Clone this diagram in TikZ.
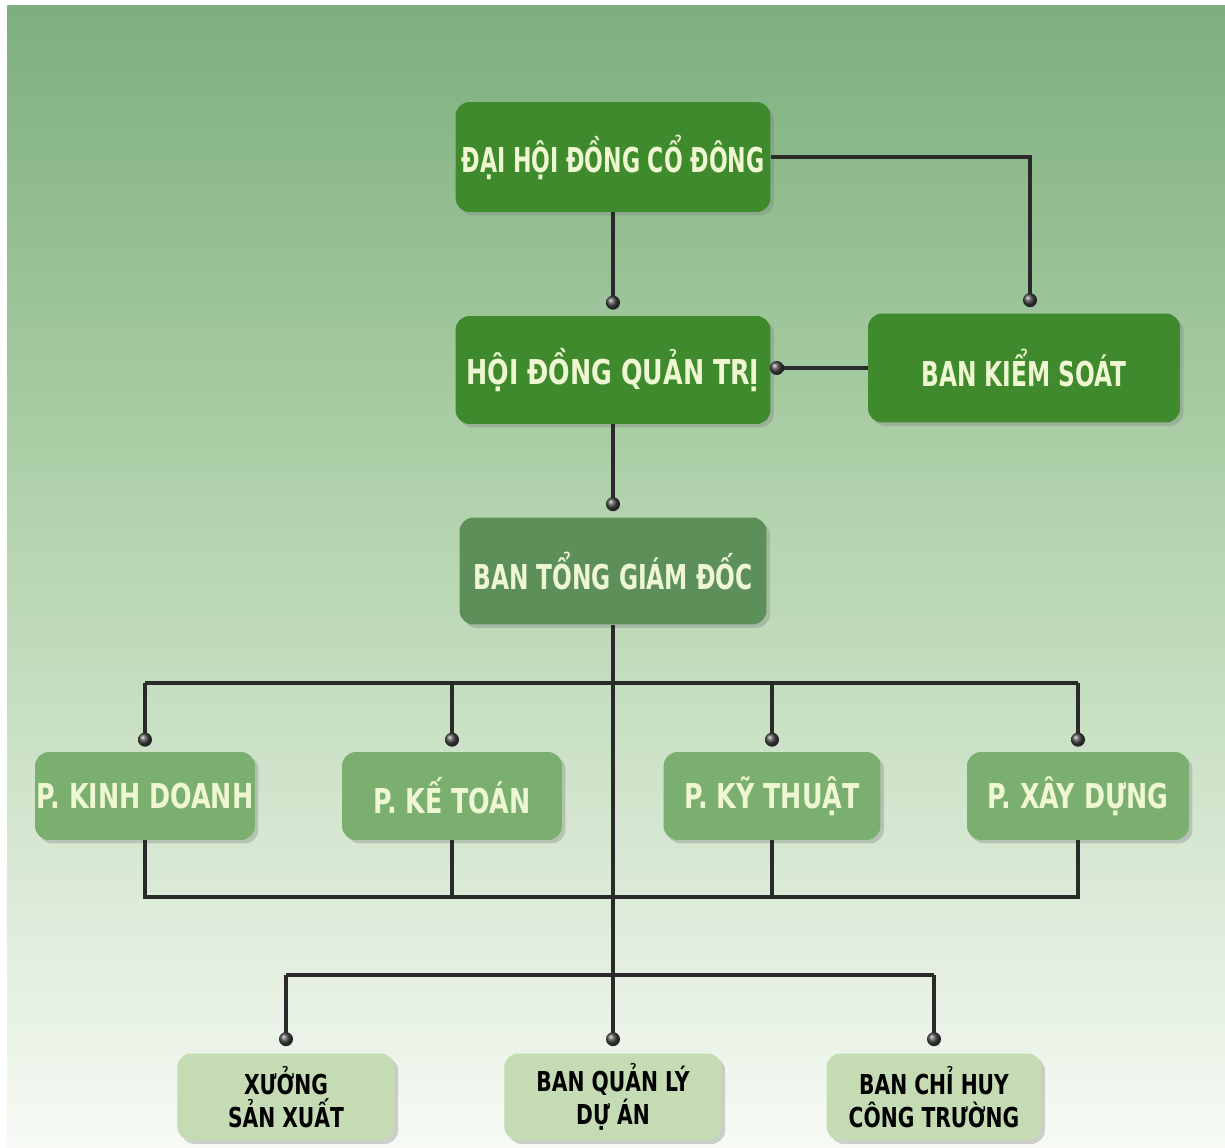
\documentclass[tikz,border=0pt]{standalone}
\usepackage{fontspec}
\usepackage{xcolor}
\usepackage{tikz}
\usetikzlibrary{calc,shadows}
\newfontfamily\boxfont{DejaVu Sans}[FakeStretch=0.74]
\newfontfamily\headfont{DejaVu Sans}[FakeStretch=0.68]
\newfontfamily\tightfont{DejaVu Sans}[FakeStretch=0.645]
\definecolor{bgtop}{HTML}{7DAF7E}
\definecolor{bgmid}{HTML}{B9D7B3}
\definecolor{bgbot}{HTML}{F7FAF5}
\definecolor{darkbox}{HTML}{3F8A2D}
\definecolor{dullbox}{HTML}{5D8F58}
\definecolor{midbox}{HTML}{7BAF6F}
\definecolor{lightbox}{HTML}{C4DBB4}
\definecolor{cream}{HTML}{EEF7D2}
\definecolor{wire}{HTML}{2A2A2A}

\begin{document}
\begin{tikzpicture}[x=0.02cm,y=-0.02cm,
  box/.style={rectangle,rounded corners=8pt,inner sep=0pt,align=center,
              drop shadow={shadow xshift=0.07cm,shadow yshift=-0.07cm,opacity=0.35}},
  headbox/.style={box,fill=darkbox,text=cream,minimum width=6.3cm,minimum height=2.2cm,
                  font=\headfont\bfseries\fontsize{19.5}{23}\selectfont},
  ceobox/.style={box,fill=dullbox,text=cream,minimum width=6.14cm,minimum height=2.14cm,
                 font=\headfont\bfseries\fontsize{19.5}{23}\selectfont},
  deptbox/.style={box,fill=midbox,text=cream,minimum width=4.4cm,minimum height=1.76cm,
                  font=\boxfont\bfseries\fontsize{19.5}{23}\selectfont},
  unitbox/.style={box,fill=lightbox,text=black,minimum width=4.35cm,minimum height=1.74cm,
                  font=\boxfont\bfseries\fontsize{15.6}{18.7}\selectfont},
  link/.style={draw=wire,line width=0.07cm},
  knob/.style={ball color=gray!55!black}]

% background
\useasboundingbox (0,0) rectangle (1225,1148);
\fill[white] (0,0) rectangle (1225,1148);
\shade[top color=bgtop,bottom color=bgbot,middle color=bgmid] (7,6) rectangle (1225,1148);

% boxes
\node[headbox,font=\tightfont\bfseries\fontsize{19.5}{23}\selectfont] (dhdcd) at (613,157) {ĐẠI HỘI ĐỒNG CỔ ĐÔNG};
\node[headbox,minimum height=2.16cm,font=\boxfont\bfseries\fontsize{19.5}{23}\selectfont] (hdqt) at (613,370) {HỘI ĐỒNG QUẢN TRỊ};
\node[headbox,minimum width=6.24cm,minimum height=2.18cm] (bks) at (1024,368) {BAN KIỂM SOÁT};
\node[ceobox] (btgd) at (613,571) {BAN TỔNG GIÁM ĐỐC};

\node[deptbox] (pkd) at (145,796) {P. KINH DOANH};
\node[deptbox] (pkt) at (452,796) {P. KẾ TOÁN};
\node[deptbox,minimum width=4.34cm] (pkth) at (772,796) {P. KỸ THUẬT};
\node[deptbox,minimum width=4.44cm] (pxd) at (1078,796) {P. XÂY DỰNG};

\node[unitbox] (xsx) at (286,1097) {XƯỞNG\\SẢN XUẤT};
\node[unitbox] (bql) at (613,1097) {BAN QUẢN LÝ\\DỰ ÁN};
\node[unitbox,minimum width=4.3cm] (bch) at (934,1097) {BAN CHỈ HUY\\CÔNG TRƯỜNG};

\coordinate (bar1) at (613,683);
\coordinate (bar2) at (613,897);
\coordinate (bar3) at (613,975);

% top links
\draw[link] (dhdcd.south) -- ($(hdqt.north)+(0,-13)$) coordinate (k1);
\draw[link] (dhdcd.east) -| ($(bks.north)+(6,-13)$) coordinate (k2);
\draw[link] (bks.west) -- ($(hdqt.east |- bks.west)+(6,0)$) coordinate (k3);
\draw[link] (hdqt.south) -- ($(btgd.north)+(0,-13)$) coordinate (k4);
\draw[link] (btgd.south) -- ($(bql.north)+(0,-14)$) coordinate (k5);

% departments
\draw[link] (pkd.north |- bar1) -- (pxd.north |- bar1);
\draw[link] (pkd.south) |- (bar2) (pkt.south) -- (pkt.south |- bar2)
  (pkth.south) -- (pkth.south |- bar2) (pxd.south) |- (bar2);
\foreach \d/\k in {pkd/ka,pkt/kb,pkth/kc,pxd/kd}{
  \draw[link] (\d.north |- bar1) -- ($(\d.north)+(0,-12)$) coordinate (\k);
}

% units
\draw[link] (xsx.north |- bar3) -- (bch.north |- bar3);
\foreach \u/\k in {xsx/ke,bch/kf}{
  \draw[link] (\u.north |- bar3) -- ($(\u.north)+(0,-14)$) coordinate (\k);
}

\foreach \k in {k1,k2,k3,k4,k5,ka,kb,kc,kd,ke,kf}{
  \shade[knob] (\k) circle (7);
}
\end{tikzpicture}
\end{document}
